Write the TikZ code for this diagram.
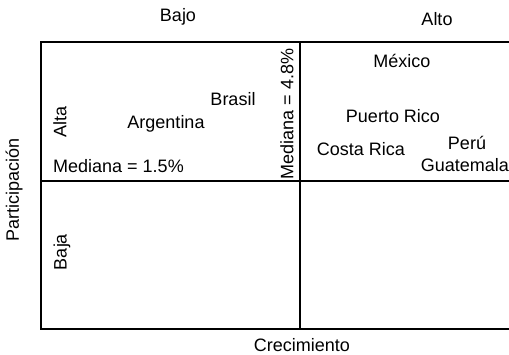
\documentclass[tikz,border=0pt]{standalone}
\usepackage{fontspec}
\setmainfont{Liberation Sans}
\usetikzlibrary{positioning}
\tikzstyle{grid} = [line width=1.4pt, black]
\tikzstyle{country} = [inner sep=0pt, font=\fontsize{18}{21}\selectfont]
\tikzstyle{axis} = [inner sep=0pt, font=\fontsize{18}{21}\selectfont]

\begin{document}
\begin{tikzpicture}[x=1pt, y=-1pt]
\useasboundingbox (0,0) rectangle (509,355);

\coordinate (tl) at (41,42);
\coordinate (tm) at (300,42);
\coordinate (tr) at (509,42);
\coordinate (ml) at (41,181);
\coordinate (mr) at (509,181);
\coordinate (bl) at (41,329);
\coordinate (bm) at (300,329);
\coordinate (br) at (509,329);

\draw [grid] (tr) -- (tl) -- (bl) -- (br);
\draw [grid] (ml) -- (mr);
\draw [grid] (tm) -- (bm);

\node at (178,17) (bajo) [axis] {Bajo};
\node at (437,19) (alto) [axis] {Alto};
\node at (14,190) (part) [axis, rotate=90] {Participación};
\node at (302,345) (crec) [axis] {Crecimiento};
\node at (60,122) (alta) [axis, rotate=90] {Alta};
\node at (62,252) (baja) [axis, rotate=90] {Baja};

\node at (53,166) (medA) [axis, anchor=west] {Mediana = 1.5\%};
\node at (287,114) (medB) [axis, rotate=90] {Mediana = 4.8\%};

\node at (166,124) (arg) [country] {Argentina};
\node at (233,99) (bra) [country] {Brasil};
\node at (402,61) (mex) [country] {México};
\node at (393,116) (pr) [country] {Puerto Rico};
\node at (361,149) (cr) [country] {Costa Rica};
\node at (467,143) (peru) [country] {Perú};
\node at (509,165) (guat) [country, anchor=east] {Guatemala};

\end{tikzpicture}
\end{document}
